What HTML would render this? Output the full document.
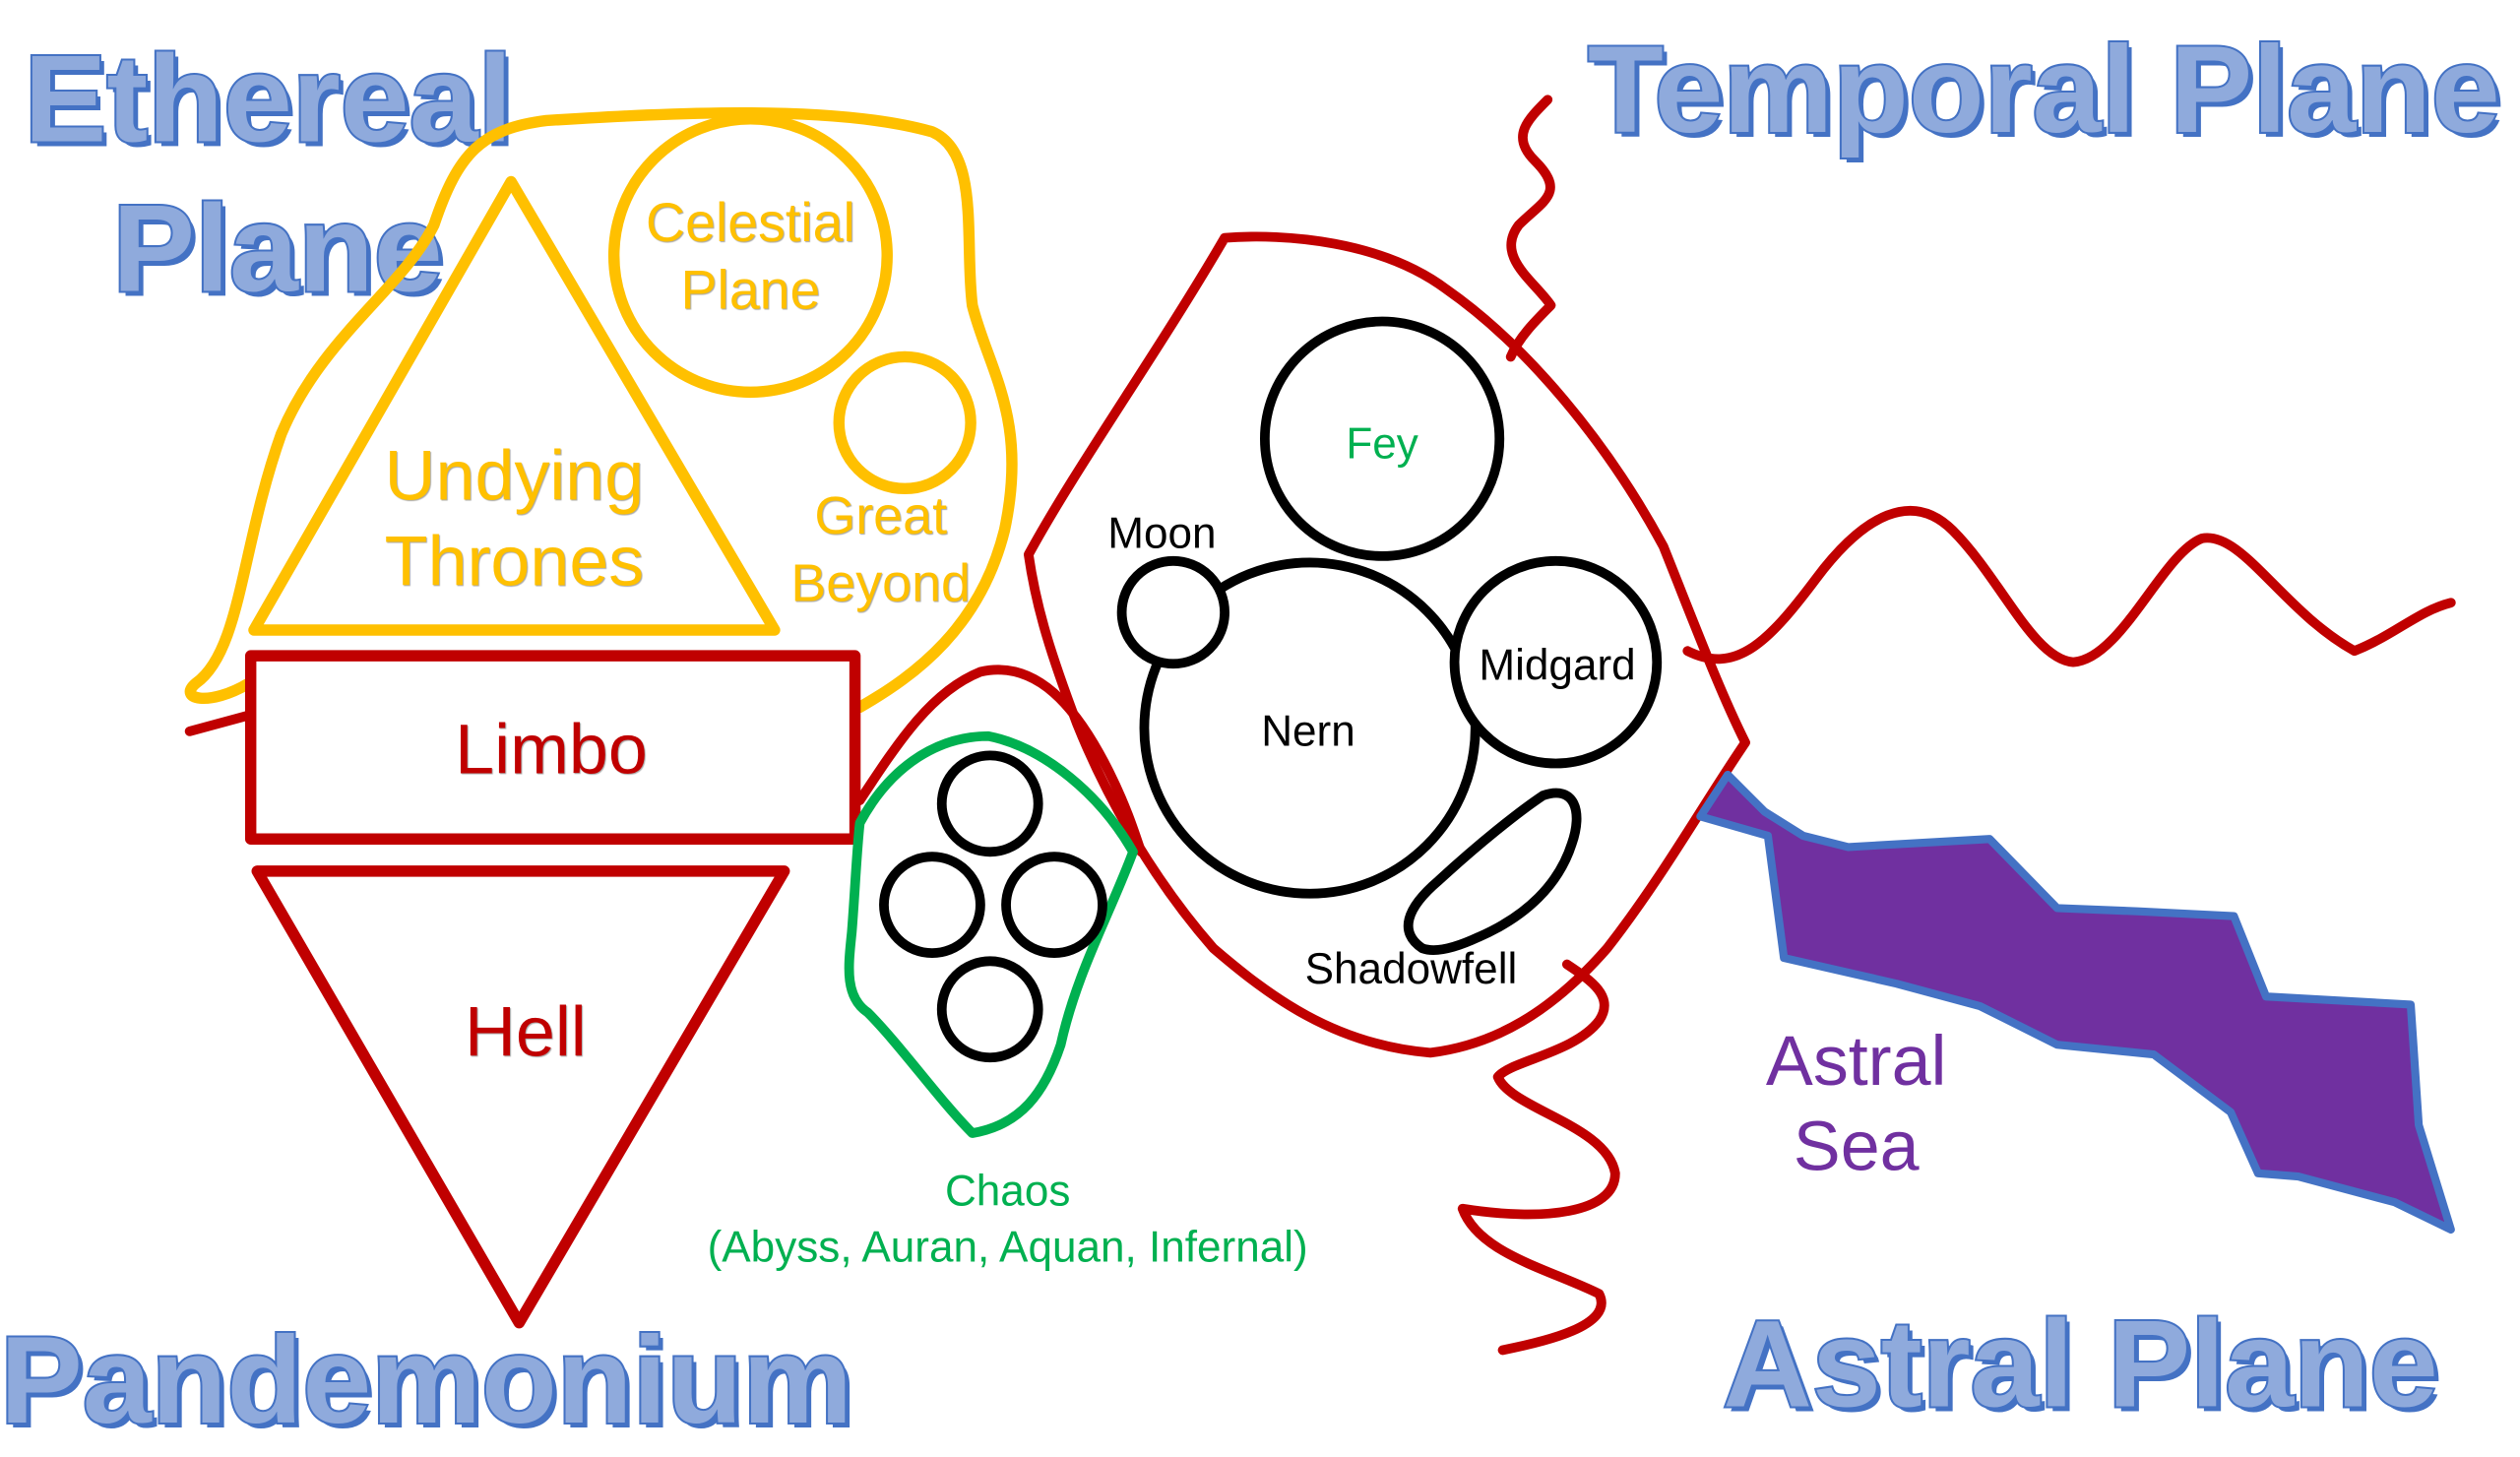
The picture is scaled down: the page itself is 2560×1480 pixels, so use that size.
<!DOCTYPE html>
<html><head><meta charset="utf-8"><style>
html,body{margin:0;padding:0;background:#fff;width:2560px;height:1480px;overflow:hidden}
svg{display:block}
text{font-family:"Liberation Sans",Arial,sans-serif}
.t{font-weight:bold;font-size:77px;fill:#8faadc;stroke:#4472c4;stroke-width:2.5;paint-order:stroke}
.ts{font-weight:bold;font-size:77px;fill:#4472c4}
.y{fill:#ffc000;text-anchor:middle;text-shadow:1px 1px 1px rgba(0,0,0,.35)}
.r{fill:#c00000;text-anchor:middle;font-size:44px;text-shadow:1px 1px 1px rgba(0,0,0,.35)}
.k{fill:#000;font-size:27px;text-anchor:middle}
.g{fill:#00b050;font-size:27px;text-anchor:middle}
</style></head><body>
<svg width="2560" height="1480" viewBox="0 0 1568 906.5" preserveAspectRatio="none" xmlns="http://www.w3.org/2000/svg">
<g>
<text class="ts" x="18" y="91">Ethereal</text><text class="t" x="15" y="88">Ethereal</text>
<text class="ts" x="73" y="184">Plane</text><text class="t" x="70" y="181">Plane</text>
<text class="ts" x="991" y="85">Temporal Plane</text><text class="t" x="988" y="82">Temporal Plane</text>
<text class="ts" x="3" y="888">Pandemonium</text><text class="t" x="0" y="885">Pandemonium</text>
<text class="ts" x="1075" y="878">Astral Plane</text><text class="t" x="1072" y="875">Astral Plane</text>
</g>
<g fill="none" stroke-linejoin="round" stroke-linecap="round">
<path d="M155,425 C130,440 110,435 122,425 C150,405 150,340 175,270 C200,210 250,180 270,140 C285,95 300,80 340,75 C420,70 520,65 580,82 C610,95 600,150 605,190 C615,230 640,260 625,330 C610,390 570,420 535,440" stroke="#ffc000" stroke-width="7"/>
<polygon points="318,113 158,392 482,392" stroke="#ffc000" stroke-width="7"/>
<circle cx="467" cy="159" r="85" stroke="#ffc000" stroke-width="7"/>
<circle cx="563" cy="263" r="41" stroke="#ffc000" stroke-width="7"/>
<rect x="156" y="408" width="376" height="114" stroke="#c00000" stroke-width="7"/>
<polygon points="160,542 488,542 323,823" stroke="#c00000" stroke-width="7"/>
<path d="M118,455 L155,445" stroke="#c00000" stroke-width="6"/>
<path d="M535,498 C560,460 580,430 610,418 C645,410 670,440 690,480 C700,500 705,515 710,530" stroke="#c00000" stroke-width="6"/>
<path d="M640,345 C670,290 720,220 762,148 C800,145 860,150 900,180 C950,215 1000,275 1035,340 C1055,390 1070,430 1086,462 C1060,500 1035,545 1000,590 C965,630 930,650 890,655 C830,650 790,620 755,590 C720,550 690,500 670,450 C655,410 645,380 640,345 Z" stroke="#c00000" stroke-width="6"/>
<path d="M963,62 C950,75 940,85 955,100 C975,120 960,125 945,140 C930,160 955,175 965,190 C955,200 945,210 940,222" stroke="#c00000" stroke-width="6"/>
<path d="M1050,405 C1080,420 1100,400 1130,360 C1160,320 1190,305 1215,330 C1245,360 1265,410 1290,412 C1320,410 1345,345 1370,335 C1395,330 1420,380 1465,405 C1490,395 1505,380 1525,375" stroke="#c00000" stroke-width="6"/>
<path d="M975,600 C990,610 1005,620 995,635 C980,655 940,660 932,670 C940,690 1000,700 1005,730 C1005,755 960,760 910,752 C920,780 965,790 995,805 C1005,825 960,835 935,840" stroke="#c00000" stroke-width="6"/>
<path d="M1058,508 L1075,482 L1098,505 L1122,520 L1150,527 L1238,522 L1280,565 L1330,567 L1390,570 L1410,620 L1500,625 L1505,700 L1525,765 L1490,748 L1430,732 L1405,730 L1388,692 L1340,656 L1280,650 L1232,626 L1180,612 L1110,596 L1100,520 Z" fill="#7030a0" stroke="#4472c4" stroke-width="5"/>
<path d="M535,512 C555,475 585,458 615,458 C650,465 685,495 705,530 C690,570 670,605 660,650 C650,680 635,700 605,705 C585,685 560,650 540,630 C525,620 528,600 530,580 C532,555 533,530 535,512 Z" stroke="#00b050" stroke-width="6"/>
<g stroke="#000" stroke-width="6">
<circle cx="616" cy="500" r="30"/><circle cx="580" cy="563" r="30"/><circle cx="656" cy="563" r="30"/><circle cx="616" cy="628" r="30"/>
<circle cx="860" cy="273" r="73"/><circle cx="815" cy="453" r="103"/>
<circle cx="730" cy="381" r="32" fill="#fff"/><circle cx="968" cy="412" r="63" fill="#fff"/>
<path d="M885,590 C870,580 875,565 895,548 C920,525 945,505 960,495 C980,488 985,505 978,525 C970,550 950,570 920,583 C905,590 893,593 885,590 Z"/>
</g>
</g>
<text class="y" x="467" y="150" font-size="34">Celestial</text>
<text class="y" x="467" y="192" font-size="34">Plane</text>
<text class="y" x="320" y="311" font-size="44">Undying</text>
<text class="y" x="320" y="364" font-size="44">Thrones</text>
<text class="y" x="548" y="332" font-size="33">Great</text>
<text class="y" x="548" y="374" font-size="33">Beyond</text>
<text class="r" x="343" y="481">Limbo</text>
<text class="r" x="327" y="657">Hell</text>
<text class="g" x="860" y="285">Fey</text>
<text class="k" x="723" y="341">Moon</text>
<text class="k" x="814" y="464">Nern</text>
<text class="k" x="969" y="423">Midgard</text>
<text class="k" x="878" y="612">Shadowfell</text>
<text class="g" x="627" y="750" font-size="28.5">Chaos</text>
<text class="g" x="627" y="785" font-size="28.5">(Abyss, Auran, Aquan, Infernal)</text>
<text x="1155" y="675" font-size="44" fill="#7030a0" text-anchor="middle">Astral</text>
<text x="1155" y="728" font-size="44" fill="#7030a0" text-anchor="middle">Sea</text>
</svg>
</body></html>
